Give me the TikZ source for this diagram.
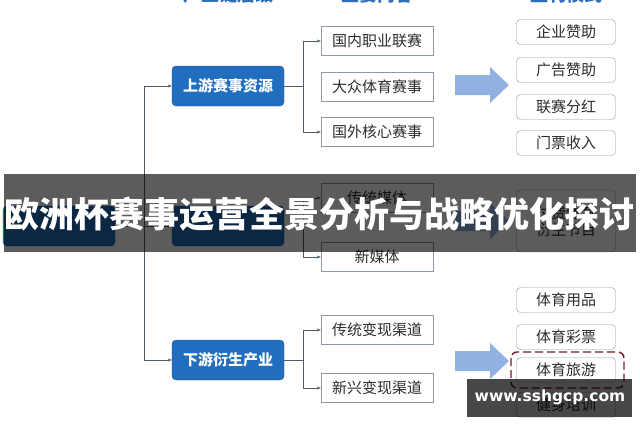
\documentclass[tikz,border=0pt]{standalone}
\usepackage{fontspec}
\setmainfont{Noto Sans CJK SC}
\newfontfamily\latinfont{DejaVu Sans}
\usetikzlibrary{arrows.meta}
\definecolor{lvlblue}{RGB}{33,110,190}
\definecolor{lvledge}{RGB}{25,85,150}
\definecolor{boxgray}{RGB}{140,152,165}
\definecolor{linkgray}{RGB}{80,92,104}
\definecolor{textgray}{RGB}{45,45,45}
\definecolor{arrowblue}{RGB}{143,178,226}
\definecolor{headblue}{RGB}{47,109,181}
\definecolor{markred}{RGB}{120,22,36}

\begin{document}
\begin{tikzpicture}[x=1pt, y=-1pt,
	level/.style={draw=lvledge, fill=lvlblue, rounded corners=4pt, minimum width=112pt, minimum height=40pt, text=white, font=\fontsize{15}{15}\selectfont\bfseries},
	item/.style={draw=boxgray, fill=white, minimum width=112pt, minimum height=29pt, text=textgray, font=\fontsize{15}{15}\selectfont},
	income/.style={draw=boxgray, fill=white, rounded corners=4pt, minimum width=99pt, minimum height=25pt, text=textgray, align=center, font=\fontsize{15}{17}\selectfont},
	link/.style={draw=linkgray, -{Stealth[length=4pt, width=3pt]}},
	header/.style={text=headblue, font=\fontsize{18}{18}\selectfont\bfseries}]
	\useasboundingbox (0,0) rectangle (640,426);
	\clip (0,0) rectangle (640,426);
	\fill[white] (0,0) rectangle (640,426);
	% column headers, cut at the top edge
	\node[header] (h1) at (228,-5) {产业链层级};
	\node[header] (h2) at (377,-5) {主要内容};
	\node[header] (h3) at (566,-5) {盈利模式};
	% levels
	\node[level] (root) at (59,226) {};
	\node[level] (up) at (228,86) {上游赛事资源};
	\node[level] (mid) at (228,226) {};
	\node[level] (down) at (228,360) {下游衍生产业};
	% contents
	\node[item] (u1) at (377,41) {国内职业联赛};
	\node[item] (u2) at (377,87) {大众体育赛事};
	\node[item] (u3) at (377,132) {国外核心赛事};
	\node[item] (m1) at (377,198) {传统媒体};
	\node[item] (m2) at (377,257) {新媒体};
	\node[item] (d1) at (377,330) {传统变现渠道};
	\node[item] (d2) at (377,388) {新兴变现渠道};
	% incomes
	\node[income] (r1) at (566,32) {企业赞助};
	\node[income] (r2) at (566,70) {广告赞助};
	\node[income] (r3) at (566,107) {联赛分红};
	\node[income] (r4) at (566,143) {门票收入};
	\node[income, minimum height=62pt] (r5) at (566,221) {付费体育\\衍生节目};
	\node[income] (r6) at (566,300) {体育用品};
	\node[income] (r7) at (566,337) {体育彩票};
	\node[income] (r8) at (566,370) {体育旅游};
	\node[income] (r9) at (566,405) {健身培训};
	\draw[markred, line width=1.4pt, dash pattern=on 8pt off 4pt, rounded corners=6pt] (511,352) rectangle (624,388);
	% connectors
	\coordinate (trunk) at (144,226);
	\draw[linkgray] (root.east) -- (trunk);
	\draw[link] (trunk) |- (up.west);
	\draw[link] (trunk) -- (mid.west);
	\draw[link] (trunk) |- (down.west);
	\coordinate (ufork) at (303,86);
	\coordinate (mfork) at (303,226);
	\coordinate (dfork) at (303,360);
	\draw[linkgray] (up.east) -- (ufork);
	\draw[linkgray] (mid.east) -- (mfork);
	\draw[linkgray] (down.east) -- (dfork);
	\draw[link] (ufork) |- (u1.west);
	\draw[link] (ufork) |- (u3.west);
	\draw[link] (mfork) |- (m1.west);
	\draw[link] (mfork) |- (m2.west);
	\draw[link] (dfork) |- (d1.west);
	\draw[link] (dfork) |- (d2.west);
	% big arrows
	\foreach \y in {85, 221, 361}
		\fill[arrowblue] (455,\y-10) -- (490,\y-10) -- (490,\y-18) -- (509,\y) -- (490,\y+18) -- (490,\y+10) -- (455,\y+10) -- cycle;
	% title band
	\fill[black, opacity=0.64] (4,174) rectangle (636,252);
	\node[text=white, font=\fontsize{35}{35}\selectfont\bfseries] (title) at (320,214) {欧洲杯赛事运营全景分析与战略优化探讨};
	% watermark
	\fill[black, opacity=0.72] (467,379) rectangle (632,417);
	\node[text=white, font=\latinfont\fontsize{15.5}{15.5}\selectfont\bfseries] (mark) at (550,397) {www.sshgcp.com};
\end{tikzpicture}
\end{document}
